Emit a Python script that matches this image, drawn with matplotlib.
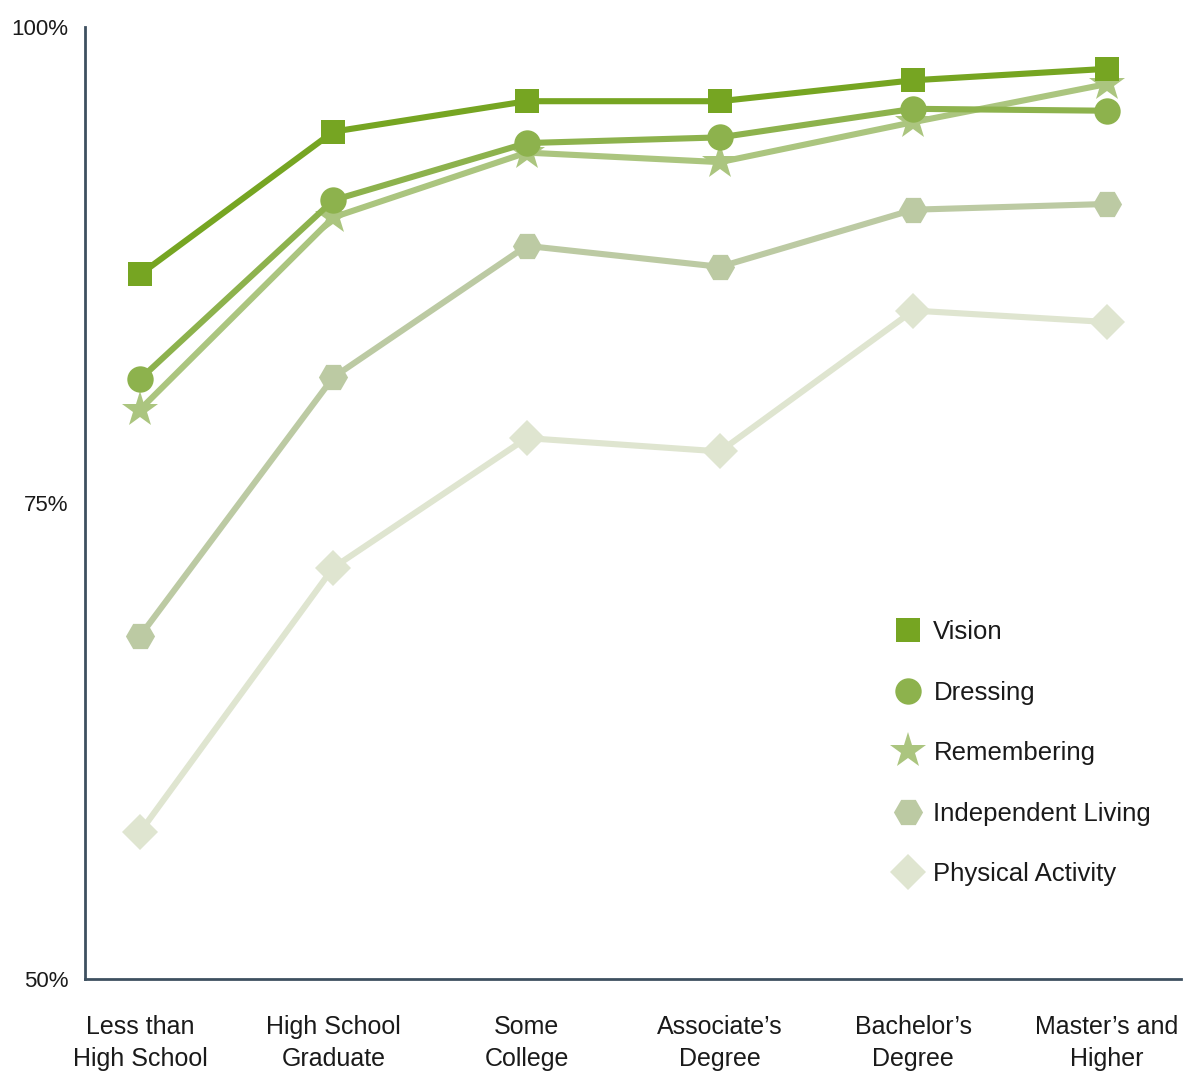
import matplotlib.pyplot as plt
from matplotlib.lines import Line2D

plt.rcParams['font.family'] = ['Liberation Sans Narrow', 'Liberation Sans', 'DejaVu Sans']

# education levels (x axis)
levels = ['Less than\nHigh School', 'High School\nGraduate', 'Some\nCollege',
          "Associate\u2019s\nDegree", "Bachelor\u2019s\nDegree", "Master\u2019s and\nHigher"]

# share of people without the limitation (%)
vision = [87.0, 94.5, 96.1, 96.1, 97.2, 97.8]
dressing = [81.5, 90.9, 93.9, 94.2, 95.7, 95.6]
remembering = [79.9, 90.0, 93.4, 92.9, 95.0, 97.0]
independent_living = [68.0, 81.6, 88.5, 87.4, 90.4, 90.7]
physical_activity = [57.7, 71.6, 78.4, 77.7, 85.1, 84.5]

series = [
    ('Vision', vision, '#76a522', 's', 17),
    ('Dressing', dressing, '#8db24d', 'o', 19),
    ('Remembering', remembering, '#abc57f', '*', 27),
    ('Independent Living', independent_living, '#bccaa3', 'H', 21),
    ('Physical Activity', physical_activity, '#dfe5d0', 'D', 18),
]

fig = plt.figure(figsize=(11.83, 10.79), dpi=100)
ax = fig.add_axes([0.072, 0.093, 0.926, 0.882])

x = list(range(len(levels)))
handles = []
for name, vals, color, marker, ms in reversed(series):
    ax.plot(x, vals, color=color, linewidth=4.4, marker=marker, markersize=ms,
            markeredgewidth=0, solid_capstyle='round')
for name, vals, color, marker, ms in series:
    handles.append(Line2D([], [], linestyle='none', marker=marker, color=color,
                          markersize=ms, markeredgewidth=0, label=name))

ax.set_xlim(-0.284, 5.383)
ax.set_ylim(50, 100)
ax.set_xticks(x)
ax.set_xticklabels(levels, fontsize=18, linespacing=1.45, color='#1a1a1a')
ax.set_yticks([50, 75, 100])
ax.set_yticklabels(['50%', '75%', '100%'], fontsize=16, color='#1a1a1a')
ax.tick_params(axis='y', length=0, pad=12)
ax.tick_params(axis='x', length=0, pad=26)

for side in ['top', 'right']:
    ax.spines[side].set_visible(False)
for side in ['left', 'bottom']:
    ax.spines[side].set_color('#3e5060')
    ax.spines[side].set_linewidth(2)

ax.legend(handles=handles, loc='upper left', bbox_to_anchor=(0.718, 0.401),
          frameon=False, fontsize=18.5, handlelength=1.0, handletextpad=0.5,
          labelspacing=1.42, labelcolor='#1a1a1a')

fig.savefig('out.png', dpi=100)
